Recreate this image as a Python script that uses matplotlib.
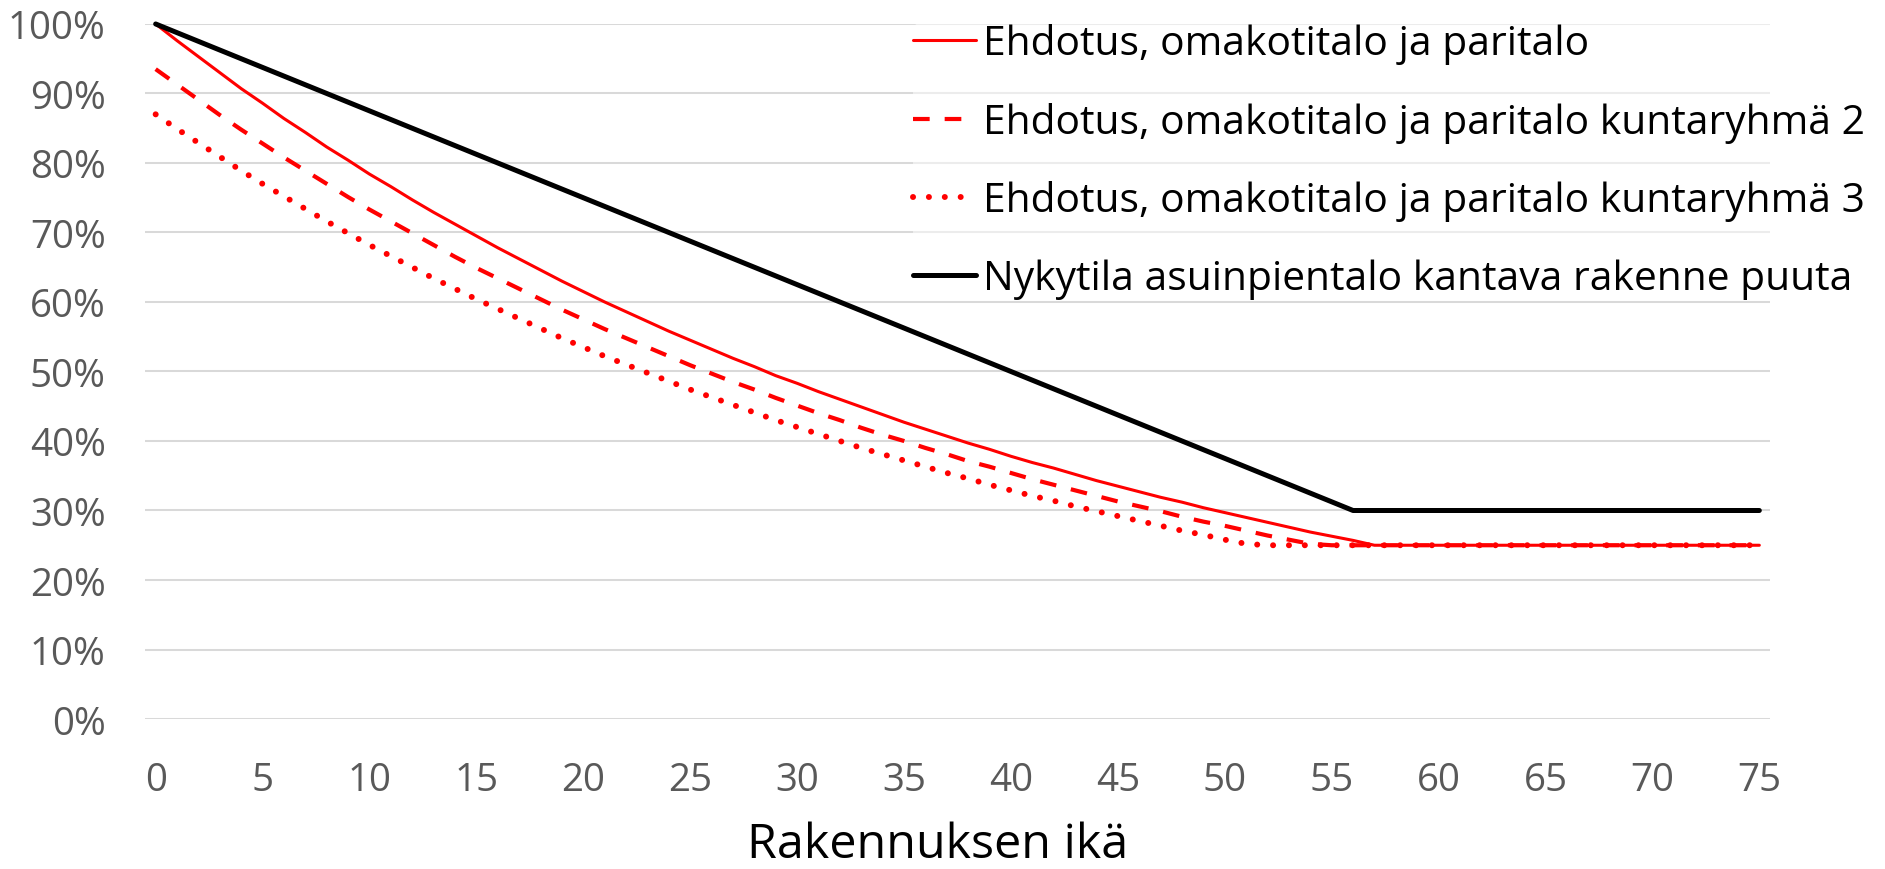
import matplotlib
matplotlib.use("Agg")
import matplotlib.pyplot as plt

plt.rcParams['font.family'] = ['Open Sans', 'DejaVu Sans']

# building age, years
years = list(range(0, 76))

# value as % of new
ehdotus = [100.0, 97.6, 95.3, 93.0, 90.7, 88.6, 86.4, 84.4, 82.3, 80.4,
           78.4, 76.6, 74.7, 72.9, 71.2, 69.5, 67.8, 66.2, 64.6, 63.0,
           61.5, 60.0, 58.6, 57.2, 55.8, 54.5, 53.2, 51.9, 50.7, 49.4,
           48.3, 47.1, 46.0, 44.9, 43.8, 42.7, 41.7, 40.7, 39.7, 38.8,
           37.8, 36.9, 36.1, 35.2, 34.3, 33.5, 32.7, 31.9, 31.2, 30.4,
           29.7, 29.0, 28.3, 27.6, 26.9, 26.3, 25.7, 25.0, 25.0, 25.0,
           25.0, 25.0, 25.0, 25.0, 25.0, 25.0, 25.0, 25.0, 25.0, 25.0,
           25.0, 25.0, 25.0, 25.0, 25.0, 25.0]
ehdotus_kr2 = [93.5, 91.3, 89.1, 86.9, 84.8, 82.8, 80.8, 78.9, 77.0, 75.1,
               73.3, 71.6, 69.9, 68.2, 66.5, 64.9, 63.4, 61.9, 60.4, 58.9,
               57.5, 56.1, 54.8, 53.5, 52.2, 50.9, 49.7, 48.5, 47.4, 46.2,
               45.1, 44.0, 43.0, 41.9, 40.9, 40.0, 39.0, 38.1, 37.1, 36.3,
               35.4, 34.5, 33.7, 32.9, 32.1, 31.3, 30.6, 29.9, 29.1, 28.4,
               27.8, 27.1, 26.4, 25.8, 25.2, 25.0, 25.0, 25.0, 25.0, 25.0,
               25.0, 25.0, 25.0, 25.0, 25.0, 25.0, 25.0, 25.0, 25.0, 25.0,
               25.0, 25.0, 25.0, 25.0, 25.0, 25.0]
ehdotus_kr3 = [87.0, 84.9, 82.9, 80.9, 78.9, 77.0, 75.2, 73.4, 71.6, 69.9,
               68.2, 66.6, 65.0, 63.4, 61.9, 60.4, 59.0, 57.6, 56.2, 54.8,
               53.5, 52.2, 51.0, 49.8, 48.6, 47.4, 46.3, 45.2, 44.1, 43.0,
               42.0, 41.0, 40.0, 39.0, 38.1, 37.2, 36.3, 35.4, 34.6, 33.7,
               32.9, 32.1, 31.4, 30.6, 29.9, 29.2, 28.5, 27.8, 27.1, 26.5,
               25.8, 25.2, 25.0, 25.0, 25.0, 25.0, 25.0, 25.0, 25.0, 25.0,
               25.0, 25.0, 25.0, 25.0, 25.0, 25.0, 25.0, 25.0, 25.0, 25.0,
               25.0, 25.0, 25.0, 25.0, 25.0, 25.0]
nykytila = [100.0, 98.75, 97.5, 96.25, 95.0, 93.75, 92.5, 91.25,
            90.0, 88.75, 87.5, 86.25, 85.0, 83.75, 82.5, 81.25,
            80.0, 78.75, 77.5, 76.25, 75.0, 73.75, 72.5, 71.25,
            70.0, 68.75, 67.5, 66.25, 65.0, 63.75, 62.5, 61.25,
            60.0, 58.75, 57.5, 56.25, 55.0, 53.75, 52.5, 51.25,
            50.0, 48.75, 47.5, 46.25, 45.0, 43.75, 42.5, 41.25,
            40.0, 38.75, 37.5, 36.25, 35.0, 33.75, 32.5, 31.25,
            30.0, 30.0, 30.0, 30.0, 30.0, 30.0, 30.0, 30.0,
            30.0, 30.0, 30.0, 30.0, 30.0, 30.0, 30.0, 30.0,
            30.0, 30.0, 30.0, 30.0]

labels = ["Ehdotus, omakotitalo ja paritalo",
          "Ehdotus, omakotitalo ja paritalo kuntaryhmä 2",
          "Ehdotus, omakotitalo ja paritalo kuntaryhmä 3",
          "Nykytila asuinpientalo kantava rakenne puuta"]
xticks = list(range(0, 80, 5))
yticks = list(range(0, 110, 10))

fig = plt.figure(figsize=(18.85, 8.7), dpi=100)
ax = fig.add_axes([0.0769, 0.1724, 0.8621, 0.7989])

ax.plot(years, ehdotus, color="#FF0000", lw=2.2, solid_joinstyle="round",
        solid_capstyle="round", label=labels[0], clip_on=False, zorder=3)
ax.plot(years, ehdotus_kr2, color="#FF0000", lw=3.0, dashes=(4.0, 3.6),
        dash_capstyle="butt", label=labels[1], clip_on=False, zorder=3)
ax.plot(years, ehdotus_kr3, color="#FF0000", lw=4.3, dashes=(0.01, 2.65),
        dash_capstyle="round", label=labels[2], clip_on=False, zorder=3)
ax.plot(years, nykytila, color="black", lw=3.6, solid_joinstyle="round",
        solid_capstyle="round", label=labels[3], clip_on=False, zorder=4)

ax.set_xlim(-0.5, 75.5)
ax.set_ylim(0, 100)
ax.set_xticks(xticks)
ax.set_yticks(yticks)
ax.set_yticklabels([f"{v}%" for v in yticks])
ax.tick_params(axis="both", length=0, labelsize=27.7, labelcolor="#595959")
ax.tick_params(axis="y", pad=28.3)
ax.tick_params(axis="x", pad=30)
ax.grid(axis="y", color="#D9D9D9", lw=1.45)
ax.set_axisbelow(True)
for s in ax.spines.values():
    s.set_visible(False)

fig.text(0.4973, 0.0138, "Rakennuksen ikä", fontsize=34.8, ha="center", va="baseline")

leg = fig.legend(loc="upper left", bbox_to_anchor=(0.4843, 0.972),
                 fontsize=29.3, frameon=True, framealpha=0.5, edgecolor="none",
                 borderpad=0, borderaxespad=0, handlelength=1.55,
                 handletextpad=0.17, labelspacing=0.92)

fig.savefig("out.png", dpi=100)
